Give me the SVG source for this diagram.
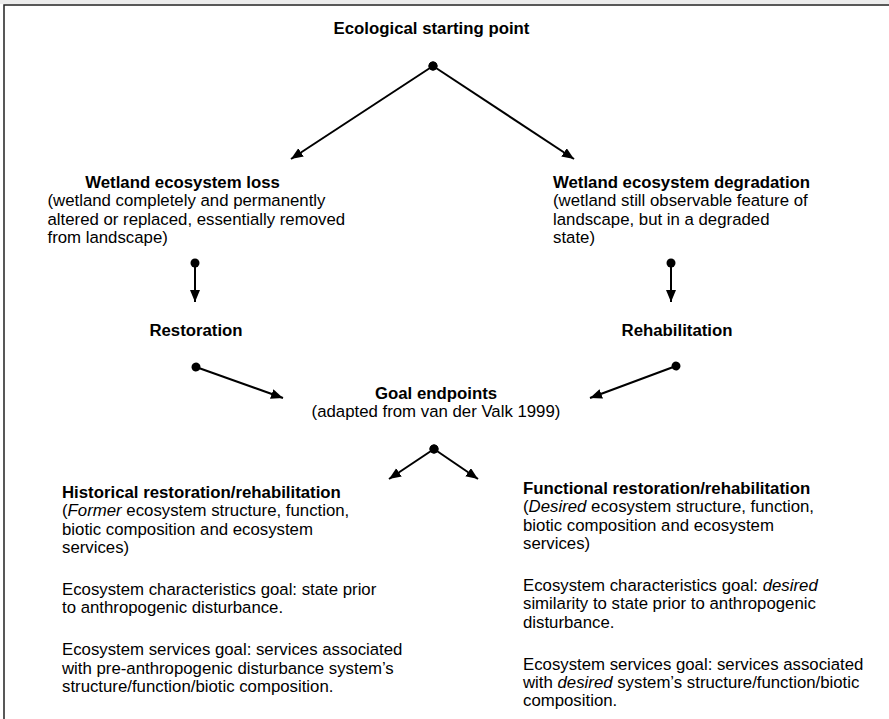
<svg xmlns="http://www.w3.org/2000/svg" width="889" height="719" viewBox="0 0 889 719">
<style>
  text { font-family: "Liberation Sans", Arial, sans-serif; font-size: 16.8px; fill: #000; }
  .b { font-weight: bold; }
  .m { text-anchor: middle; }
  .i { font-style: italic; }
  .conn { stroke: #000; stroke-width: 2; fill: none; marker-start: url(#dot); marker-end: url(#arr); }
</style>
<defs>
  <marker id="arr" markerUnits="userSpaceOnUse" markerWidth="14" markerHeight="12" refX="12" refY="5" orient="auto">
    <path d="M0,0 L12,5 L0,10 Z" fill="#000"/>
  </marker>
  <marker id="dot" markerUnits="userSpaceOnUse" markerWidth="10" markerHeight="10" refX="5" refY="5" orient="auto">
    <circle cx="5" cy="5" r="4.5" fill="#000"/>
  </marker>
</defs>
<rect x="0" y="0" width="889" height="719" fill="#fff"/>
<rect x="0" y="0" width="889" height="4" fill="#ececec"/>
<path d="M4,719 L4,5 L889,5" stroke="#222" stroke-width="1.5" fill="none"/>

<g id="connectors">
  <line class="conn" x1="433" y1="66" x2="291" y2="159"/>
  <line class="conn" x1="433" y1="66" x2="574" y2="159"/>
  <line class="conn" x1="195" y1="263" x2="195" y2="302"/>
  <line class="conn" x1="671" y1="263" x2="671" y2="302"/>
  <line class="conn" x1="196" y1="367" x2="283" y2="398"/>
  <line class="conn" x1="676" y1="366" x2="590" y2="398"/>
  <line class="conn" x1="434" y1="449" x2="389" y2="479"/>
  <line class="conn" x1="434" y1="449" x2="478" y2="479"/>
</g>

<g id="start">
  <text class="b m" x="431.5" y="34">Ecological starting point</text>
</g>

<g id="loss">
  <text class="b m" x="182.5" y="188">Wetland ecosystem loss</text>
  <text x="47.5" y="206.4">(wetland completely and permanently</text>
  <text x="47.5" y="224.8">altered or replaced, essentially removed</text>
  <text x="47.5" y="243.2">from landscape)</text>
</g>

<g id="degradation">
  <text class="b" x="553" y="188">Wetland ecosystem degradation</text>
  <text x="553" y="206.4">(wetland still observable feature of</text>
  <text x="553" y="224.8">landscape, but in a degraded</text>
  <text x="553" y="243.2">state)</text>
</g>

<g id="restoration">
  <text class="b m" x="196" y="336">Restoration</text>
</g>

<g id="rehabilitation">
  <text class="b m" x="677" y="336">Rehabilitation</text>
</g>

<g id="goal">
  <text class="b m" x="436" y="399">Goal endpoints</text>
  <text class="m" x="436" y="417.4">(adapted from van der Valk 1999)</text>
</g>

<g id="historical">
  <text class="b" x="62" y="498">Historical restoration/rehabilitation</text>
  <text x="62" y="516.4">(<tspan class="i">Former</tspan> ecosystem structure, function,</text>
  <text x="62" y="534.8">biotic composition and ecosystem</text>
  <text x="62" y="553.2">services)</text>
  <text x="62" y="595">Ecosystem characteristics goal: state prior</text>
  <text x="62" y="613.4">to anthropogenic disturbance.</text>
  <text x="62" y="655.2">Ecosystem services goal: services associated</text>
  <text x="62" y="673.6">with pre-anthropogenic disturbance system’s</text>
  <text x="62" y="692">structure/function/biotic composition.</text>
</g>

<g id="functional">
  <text class="b" x="523" y="494">Functional restoration/rehabilitation</text>
  <text x="523" y="512.4">(<tspan class="i">Desired</tspan> ecosystem structure, function,</text>
  <text x="523" y="530.8">biotic composition and ecosystem</text>
  <text x="523" y="549.2">services)</text>
  <text x="523" y="591">Ecosystem characteristics goal: <tspan class="i">desired</tspan></text>
  <text x="523" y="609.4">similarity to state prior to anthropogenic</text>
  <text x="523" y="627.8">disturbance.</text>
  <text x="523" y="669.6">Ecosystem services goal: services associated</text>
  <text x="523" y="688">with <tspan class="i">desired</tspan> system’s structure/function/biotic</text>
  <text x="523" y="706.4">composition.</text>
</g>
</svg>
